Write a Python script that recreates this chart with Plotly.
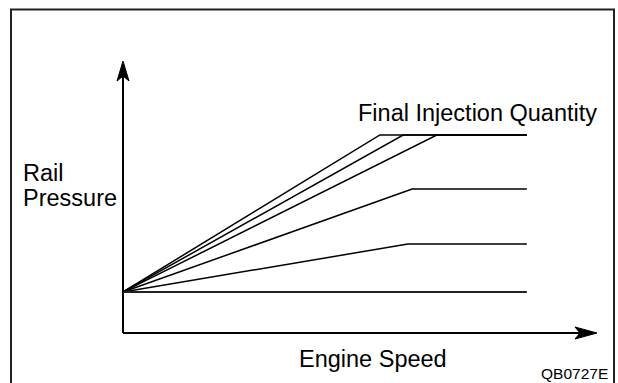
import plotly.graph_objects as go

# Rail pressure vs. engine speed for several final injection quantities
# (arbitrary units: both axes run 0..100 up to the arrow tips)
start_speed = 0.0
start_pressure = 15.1
knee_speed = [54.2, 59.1, 66.2, 61.0, 60.1]
plateau_pressure = [72.8, 72.8, 72.8, 52.9, 32.7]
end_speed = 85.2
axis_end = 100.0

W, H = 618, 383
X_PX, Y_PX = 4.74, 2.72          # pixels per unit
X0_PX, Y0_PX = 123, 333          # pixel position of the origin
FONT = "Liberation Sans, Arial, sans-serif"

fig = go.Figure()

line_style = dict(color="black", width=1.5)

# rising branches up to the knee, then the plateau
for ks, pp in zip(knee_speed, plateau_pressure):
    fig.add_trace(go.Scatter(
        x=[start_speed, ks, end_speed],
        y=[start_pressure, pp, pp],
        mode="lines", line=line_style, hoverinfo="skip", showlegend=False))

# lowest quantity: constant pressure
fig.add_trace(go.Scatter(
    x=[start_speed, end_speed], y=[start_pressure, start_pressure],
    mode="lines", line=dict(color="#222", width=2), hoverinfo="skip",
    showlegend=False))

x_range = [-X0_PX / X_PX, (W - X0_PX) / X_PX]
y_range = [-(H - Y0_PX) / Y_PX, Y0_PX / Y_PX]

fig.update_xaxes(range=x_range, visible=False, fixedrange=True)
fig.update_yaxes(range=y_range, visible=False, fixedrange=True)

shapes = []
# axes
shapes.append(dict(type="line", xref="x", yref="y", x0=0, y0=0, x1=0, y1=axis_end - 3,
                   line=dict(color="black", width=2)))
shapes.append(dict(type="line", xref="x", yref="y", x0=0, y0=0, x1=axis_end - 2, y1=0,
                   line=dict(color="black", width=2)))
# arrow heads
shapes.append(dict(type="path", xref="x", yref="y", xsizemode="pixel", ysizemode="pixel",
                   xanchor=0, yanchor=axis_end,
                   path="M0,0 L-6,-20 L0,-15 L6,-20 Z",
                   fillcolor="black", line=dict(color="black", width=1)))
shapes.append(dict(type="path", xref="x", yref="y", xsizemode="pixel", ysizemode="pixel",
                   xanchor=axis_end, yanchor=0,
                   path="M0,0 L-22,6 L-17,0 L-22,-6 Z",
                   fillcolor="black", line=dict(color="black", width=1)))
# outer frame
shapes.append(dict(type="rect", xref="paper", yref="paper",
                   x0=11 / W, x1=614 / W, y0=-10 / H, y1=1 - 9.5 / H,
                   line=dict(color="#222", width=2)))


def px(x):
    return x / W


def py(y):
    return 1 - y / H


def label(text, x, y, size=23.5):
    return dict(text=text, xref="paper", yref="paper", x=px(x), y=py(y),
                xanchor="left", yanchor="middle", showarrow=False,
                font=dict(family=FONT, size=size, color="black"))


annotations = [
    label("Final Injection Quantity", 356, 113),
    label("Rail", 21, 173),
    label("Pressure", 21, 198),
    label("Engine Speed", 297, 359),
    label("QB0727E", 539, 373, size=15.5),
]

fig.update_layout(
    width=W, height=H,
    margin=dict(l=0, r=0, t=0, b=0),
    paper_bgcolor="white", plot_bgcolor="white",
    shapes=shapes, annotations=annotations,
)

fig.write_html("out.html")
